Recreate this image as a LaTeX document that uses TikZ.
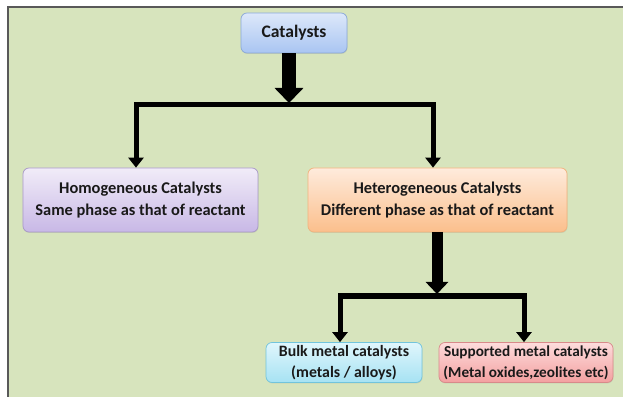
\documentclass[tikz,border=0pt]{standalone}
\usepackage{fontspec}
\setmainfont{Carlito}
\usetikzlibrary{arrows.meta,shadows}

\definecolor{panelG}{HTML}{D7E4BD}
\definecolor{catTop}{HTML}{DDE8FA}
\definecolor{catBot}{HTML}{A9C5F2}
\definecolor{catEdge}{HTML}{8AA8D8}
\definecolor{homTop}{HTML}{F1ECF8}
\definecolor{homBot}{HTML}{C8B8E6}
\definecolor{homEdge}{HTML}{A898C8}
\definecolor{hetTop}{HTML}{FEEBDC}
\definecolor{hetBot}{HTML}{FBBF8C}
\definecolor{hetEdge}{HTML}{F2B27C}
\definecolor{bulkTop}{HTML}{E0F6FC}
\definecolor{bulkBot}{HTML}{A6E2F3}
\definecolor{bulkEdge}{HTML}{72C4DC}
\definecolor{supTop}{HTML}{FDDCDC}
\definecolor{supBot}{HTML}{F3A0A0}
\definecolor{supEdge}{HTML}{D88A8A}

\tikzstyle{boxS}=[rounded corners=1.8mm,draw,line width=0.6pt,text=black!90,align=center,inner sep=0pt,drop shadow={opacity=0.2,shadow xshift=0.4pt,shadow yshift=-0.8pt}]
\tikzstyle{catS}=[boxS,top color=catTop,bottom color=catBot,draw=catEdge,minimum width=31.8mm,minimum height=12mm,font=\fontsize{15}{18}\selectfont\bfseries]
\tikzstyle{midS}=[boxS,minimum height=19.2mm,font=\fontsize{14}{19}\selectfont\bfseries]
\tikzstyle{lowS}=[boxS,minimum height=12mm,font=\fontsize{13.5}{18}\selectfont\bfseries]
\tikzstyle{bigA}=[line width=4.2mm,-{Triangle[width=8.4mm,length=4.5mm]}]
\tikzstyle{lowA}=[line width=3.3mm,-{Triangle[width=6.6mm,length=3.6mm]}]
\tikzstyle{barA}=[line width=1.5mm,line join=miter,{Triangle[width=4.5mm,length=3mm]}-{Triangle[width=4.5mm,length=3mm]}]

\begin{document}
\begin{tikzpicture}[x=0.3mm,y=-0.3mm]
                \useasboundingbox (0,0) rectangle (623,397);
                \fill[white] (0,0) rectangle (623,397);
                \fill[panelG] (8,7) rectangle (623,397);
                \draw[black!65,line width=0.45mm] (8,397) |- (623,7);

                \draw (294,33) node[catS] (cat) {Catalysts};
                \draw (140.5,200) node[midS,top color=homTop,bottom color=homBot,draw=homEdge,minimum width=70.5mm] (homo) {Homogeneous Catalysts\\Same phase as that of reactant};
                \draw (437.5,200) node[midS,top color=hetTop,bottom color=hetBot,draw=hetEdge,minimum width=77.7mm] (hetero) {Heterogeneous Catalysts\\Different phase as that of reactant};
                \draw (344,362.5) node[lowS,top color=bulkTop,bottom color=bulkBot,draw=bulkEdge,minimum width=46.8mm] (bulk) {Bulk metal catalysts\\(metals / alloys)};
                \draw (526,362.5) node[lowS,top color=supTop,bottom color=supBot,draw=supEdge,minimum width=52.2mm,font=\fontsize{13}{18}\selectfont\bfseries] (supp) {Supported metal catalysts\\(Metal oxides,zeolites etc)};

                % branch points
                \coordinate (j1) at (289,105);
                \coordinate (b1) at (136,105);
                \coordinate (b2) at (433,105);
                \coordinate (j2) at (437,296);
                \coordinate (b3) at (340,296);
                \coordinate (b4) at (524,296);

                \draw[bigA] (cat.south -| j1) -- ([yshift=0.6mm]j1);
                \draw[barA] (b1 |- homo.north) -- (b1) -- (b2) -- (b2 |- hetero.north);
                \draw[lowA] (hetero.south -| j2) -- ([yshift=0.6mm]j2);
                \draw[barA] (b3 |- bulk.north) -- (b3) -- (b4) -- (b4 |- supp.north);
\end{tikzpicture}
\end{document}
